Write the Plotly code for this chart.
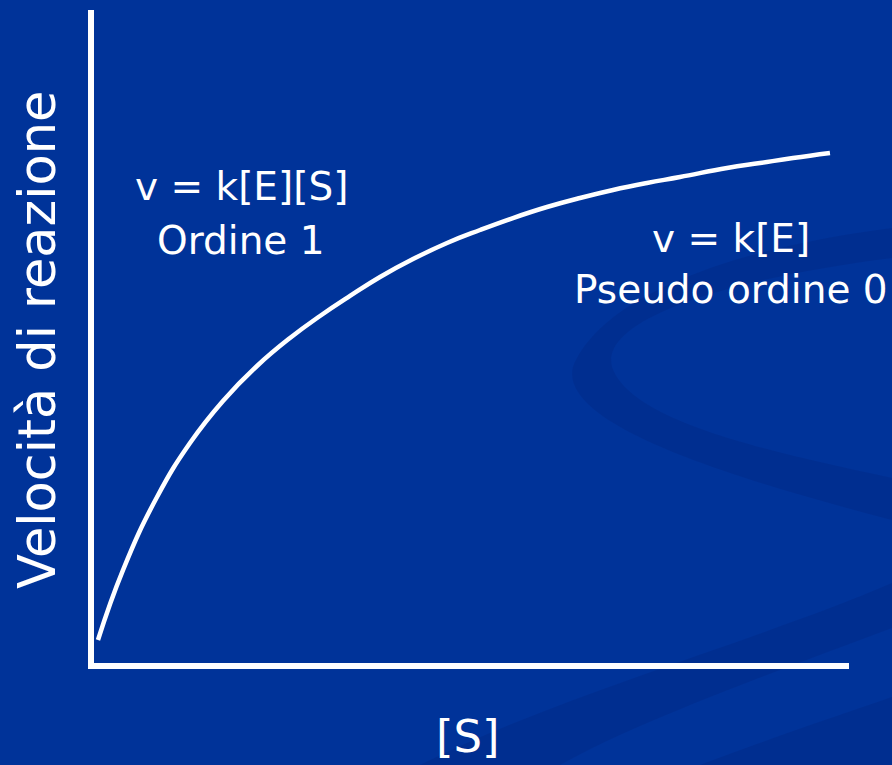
import plotly.graph_objects as go

# Substrate concentration vs. reaction rate (saturation curve), arbitrary units
substrate = [0.92, 4.22, 8.71, 13.06, 17.41, 21.90, 26.25, 30.21, 34.17, 38.13, 42.48, 46.97,
             51.32, 55.67, 60.16, 64.51, 68.87, 73.35, 77.70, 83.91, 88.26, 92.61, 97.49]
velocity = [3.82, 14.50, 25.65, 33.89, 40.31, 45.65, 49.92, 53.28, 56.34, 59.24, 61.98, 64.43,
            66.41, 68.24, 69.92, 71.30, 72.52, 73.59, 74.50, 75.88, 76.64, 77.40, 78.17]

x_title = "[S]"
y_title = "Velocità di reazione"
first_order_lines = ["v = k[E][S]", "Ordine 1"]
zero_order_lines = ["v = k[E]", "Pseudo ordine 0"]

W, H = 892, 765
L, R, T, B = 94, 43, 10, 102
X0, SX = 91.0, 7.58   # pixel of x = 0, pixels per x unit
Y0, SY = 665.0, 6.55  # pixel of y = 0, pixels per y unit
BG = "#003399"
FONT = "DejaVu Sans"
PW, PH = W - L - R, H - T - B


def px(xp):
    return (xp - L) / PW


def py(yp):
    return (H - B - yp) / PH


def path(points):
    segs = []
    for cmd, pts in points:
        coords = " ".join(f"{px(a):.4f},{py(b):.4f}" for a, b in pts)
        segs.append(f"{cmd} {coords}")
    return " ".join(segs) + " Z"


fig = go.Figure()

fig.add_trace(go.Scatter(
    x=substrate, y=velocity, mode="lines",
    line=dict(color="white", width=4.5, shape="spline", smoothing=1.3),
    hoverinfo="skip", showlegend=False,
))

# Decorative background swooshes
swoosh_color = "rgba(0,30,110,0.20)"
shapes = [
    dict(type="path", xref="paper", yref="paper", layer="below", line=dict(width=0),
         fillcolor=swoosh_color,
         path=path([("M", [(892, 228)]),
                    ("C", [(720, 250), (600, 300), (573, 367)]),
                    ("C", [(560, 420), (700, 470), (892, 520)]),
                    ("L", [(892, 478)]),
                    ("C", [(760, 450), (630, 420), (612, 367)]),
                    ("C", [(600, 320), (720, 280), (892, 258)])])),
    dict(type="path", xref="paper", yref="paper", layer="below", line=dict(width=0),
         fillcolor=swoosh_color,
         path=path([("M", [(420, 765)]),
                    ("C", [(560, 695), (760, 640), (892, 583)]),
                    ("L", [(892, 628)]),
                    ("C", [(780, 670), (640, 720), (560, 765)])])),
    dict(type="path", xref="paper", yref="paper", layer="below", line=dict(width=0),
         fillcolor=swoosh_color,
         path=path([("M", [(700, 765)]),
                    ("C", [(780, 735), (840, 715), (892, 697)]),
                    ("L", [(892, 765)])])),
]

ann_font = dict(family=FONT, size=39, color="white")
title_font = dict(family=FONT, size=51, color="white")
annotations = [
    dict(text=first_order_lines[0], x=px(241), y=py(186), font=ann_font),
    dict(text=first_order_lines[1], x=px(241), y=py(240), font=ann_font),
    dict(text=zero_order_lines[0], x=px(731), y=py(239), font=ann_font),
    dict(text=zero_order_lines[1], x=px(731), y=py(289), font=ann_font),
    dict(text=x_title, x=px(468), y=py(737), font=dict(title_font, size=45)),
    dict(text=y_title, x=px(37), y=py(340), textangle=-90, font=title_font),
]
for a in annotations:
    a.update(xref="paper", yref="paper", showarrow=False, xanchor="center", yanchor="middle")

axis_common = dict(showgrid=False, zeroline=False, showticklabels=False, ticks="",
                   showline=True, linecolor="white", linewidth=6, fixedrange=True)

fig.update_layout(
    width=W, height=H,
    margin=dict(l=L, r=R, t=T, b=B, pad=0),
    paper_bgcolor=BG, plot_bgcolor="rgba(0,0,0,0)",
    xaxis=dict(axis_common, range=[(L - X0) / SX, (W - R - X0) / SX]),
    yaxis=dict(axis_common, range=[(Y0 - (H - B)) / SY, (Y0 - T) / SY]),
    shapes=shapes, annotations=annotations,
    showlegend=False,
)

fig.write_html("out.html", config={"displayModeBar": False})
